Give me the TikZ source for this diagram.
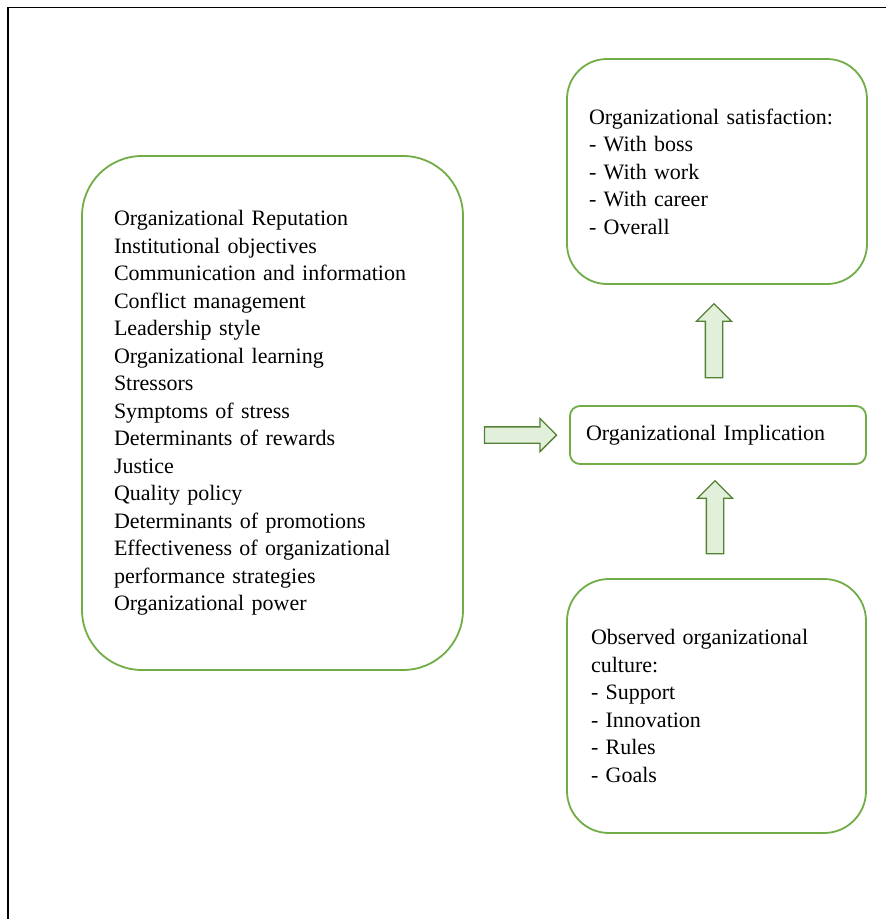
\documentclass[tikz,border=0pt]{standalone}
\usepackage{fontspec}
\setmainfont{Liberation Serif}
\usetikzlibrary{calc,shapes.arrows}

\definecolor{boxgreen}{HTML}{70AD47}
\definecolor{arrowgreen}{HTML}{548235}
\definecolor{arrowfill}{HTML}{E2EFDA}

\begin{document}
\begin{tikzpicture}[x=1pt,y=-1pt,
  font=\fontsize{22}{27.5}\selectfont,
  factorbox/.style={draw=boxgreen,line width=1.8pt,fill=white,anchor=north west,
    align=left,inner ysep=0pt,outer sep=0pt},
  blockarrow/.style={single arrow,draw=arrowgreen,fill=arrowfill,line width=1.3pt,
    inner xsep=0pt,inner ysep=8pt,outer sep=0pt,single arrow head extend=9pt,
    single arrow head indent=0pt}]

\useasboundingbox (0,0) rectangle (886,919);

% Frame
\draw[line width=1.6pt] (8,919) -- (8,7.5) -- (886,7.5);

% Factors
\node[factorbox,rounded corners=60pt,minimum width=381pt,minimum height=514pt,
  inner xsep=32pt,text width=317pt] (factors) at (82,156)
{Organizational Reputation\\
Institutional objectives\\
Communication and information\\
Conflict management\\
Leadership style\\
Organizational learning\\
Stressors\\
Symptoms of stress\\
Determinants of rewards\\
Justice\\
Quality policy\\
Determinants of promotions\\
Effectiveness of organizational\\
performance strategies\\
Organizational power};

% Satisfaction
\node[factorbox,rounded corners=40pt,minimum width=300pt,minimum height=225pt,
  inner xsep=22pt,text width=256pt] (satisf) at (567,59)
{Organizational satisfaction:\\
- With boss\\
- With work\\
- With career\\
- Overall};

% Implication
\node[factorbox,rounded corners=10pt,minimum width=296pt,minimum height=58pt,
  inner xsep=16pt,text width=264pt] (impl) at (570,406)
{Organizational Implication};

% Culture
\node[factorbox,rounded corners=42pt,minimum width=299pt,minimum height=254pt,
  inner xsep=24pt,text width=251pt] (culture) at (567,579)
{Observed organizational\\
culture:\\
- Support\\
- Innovation\\
- Rules\\
- Goals};

% Block arrows
\node[blockarrow,minimum height=72pt,inner ysep=7.5pt,single arrow head extend=8.5pt]
  (toimpl) at ($(factors.east |- impl.west)!0.5!(impl.west)$) {};
\node[blockarrow,rotate=90,minimum height=74pt,yshift=6pt]
  (tosatisf) at ($(impl.north -| 720,0)!0.5!(satisf.south -| 720,0)$) {};
\node[blockarrow,rotate=90,minimum height=73pt,yshift=5pt]
  (fromculture) at ($(culture.north -| 720,0)!0.5!(impl.south -| 720,0)$) {};

\end{tikzpicture}
\end{document}
